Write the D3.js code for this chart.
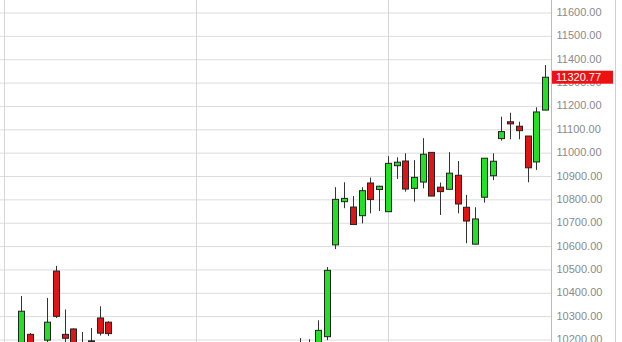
<!DOCTYPE html>
<html>
<head>
<meta charset="utf-8">
<script src="https://cdn.jsdelivr.net/npm/d3@7"></script>
<style>
  body { margin: 0; background: #fff; }
  svg { display: block; font-family: "Liberation Sans", Arial, sans-serif; }
</style>
</head>
<body>
<svg id="chart" width="622" height="342"></svg>
<script>
/** Candle data, one entry per trading day (index 0 = first visible day) */
var opens  = [10150, 10220, 10140, 10195, 10491, 10220, 10243, 10160, 10192, 10290,
              10272, 10170, 10110, 10130, 10080, 10100, 10150, 10100, 10040, 10070,
              10120, 10080, 10000, 10040, 10090, 10060, 10110, 10140, 10100, 10130,
              10150, 10120, 10140, 10170, 10180, 10210, 10603, 10788, 10765, 10728,
              10868, 10840, 10745, 10942, 10962, 10845, 10872, 10999, 10850, 10841,
              10901, 10764, 10606, 10807, 10899, 11058, 11130, 11111, 11069, 10958,
              11180];
var highs  = [10384, 10225, 10175, 10376, 10513, 10326, 10245, 10230, 10247, 10340,
              10276, 10180, 10150, 10160, 10120, 10170, 10175, 10130, 10090, 10140,
              10160, 10110, 10060, 10100, 10150, 10120, 10170, 10175, 10150, 10170,
              10180, 10160, 10204, 10199, 10280, 10508, 10850, 10871, 10812, 10850,
              10891, 10856, 10983, 10978, 10995, 10966, 11060, 10999, 10870, 11000,
              10962, 10817, 10764, 10974, 10995, 11152, 11169, 11130, 11069, 11192,
              11373];
var lows   = [10130, 10110, 10120, 10180, 10290, 10150, 10140, 10100, 10150, 10215,
              10213, 10090, 10060, 10070, 10020, 10080, 10090, 10010, 9990, 10050,
              10060, 9980, 9950, 10010, 10050, 10020, 10080, 10090, 10060, 10100,
              10110, 10080, 10110, 10130, 10170, 10195, 10585, 10760, 10690, 10695,
              10738, 10748, 10745, 10885, 10831, 10788, 10845, 10812, 10731, 10841,
              10738, 10610, 10606, 10784, 10880, 11049, 11055, 11055, 10871, 10924,
              11180];
var closes = [10319, 10140, 10160, 10272, 10297, 10203, 10160, 10120, 10190, 10225,
              10223, 10110, 10130, 10080, 10100, 10150, 10100, 10040, 10070, 10120,
              10080, 10000, 10040, 10090, 10060, 10110, 10140, 10100, 10130, 10150,
              10120, 10140, 10170, 10180, 10237, 10494, 10798, 10802, 10690, 10835,
              10797, 10854, 10952, 10957, 10842, 10892, 10991, 10812, 10831, 10910,
              10778, 10705, 10714, 10974, 10961, 11088, 11121, 11092, 10933, 11172,
              11320.77];

/** Price axis tick labels */
var yTicks = [10200, 10300, 10400, 10500, 10600, 10700, 10800, 10900,
              11000, 11100, 11200, 11300, 11400, 11500, 11600];

/** Day indices where a new month starts (vertical grid lines) */
var monthStarts = [-2, 20, 42];

var width = 622,
    height = 342,
    plotRight = 551;

var svg = d3.select('#chart');

var candles = closes.map(function (c, i) {
    return {i: i, open: opens[i], high: highs[i], low: lows[i], close: c};
});

var x = d3.scaleLinear()
    .domain([0, candles.length - 1])
    .range([21, 545]);

var y = d3.scaleLinear()
    .domain([10200, 11600])
    .range([339, 12]);

svg.append('clipPath').attr('id', 'plotClip')
    .append('rect')
    .attr('width', plotRight)
    .attr('height', height);

// horizontal grid
var hGrid = svg.append('g')
    .attr('class', 'grid')
    .call(d3.axisRight(y).tickValues(yTicks).tickSize(plotRight).tickFormat(''));
hGrid.select('.domain').remove();
hGrid.selectAll('line')
    .attr('stroke', '#dcdcdc')
    .attr('transform', 'translate(0,0.5)');

// vertical grid
svg.append('g').selectAll('line')
    .data(monthStarts)
    .enter()
    .append('line')
    .attr('x1', function (d) { return Math.round(x(d)) + 0.5; })
    .attr('x2', function (d) { return Math.round(x(d)) + 0.5; })
    .attr('y1', 0)
    .attr('y2', height)
    .attr('stroke', '#d6d6d6');

// candles
var plot = svg.append('g').attr('clip-path', 'url(#plotClip)');

var candle = plot.selectAll('g.candle')
    .data(candles)
    .enter()
    .append('g')
    .attr('class', 'candle')
    .attr('transform', function (d) {
        return 'translate(' + (Math.round(x(d.i)) + 0.5) + ',0)';
    });

candle.append('line')
    .attr('y1', function (d) { return y(d.high); })
    .attr('y2', function (d) { return y(d.low); })
    .attr('stroke', '#333');

candle.append('rect')
    .attr('x', -3)
    .attr('width', 6)
    .attr('y', function (d) { return y(Math.max(d.open, d.close)); })
    .attr('height', function (d) {
        return Math.max(1, Math.abs(y(d.open) - y(d.close)));
    })
    .attr('fill', function (d) {
        if (Math.abs(d.close - d.open) < 5) return '#222';
        return d.close > d.open ? '#22e022' : '#e01414';
    })
    .attr('stroke', '#222')
    .attr('stroke-width', 1);

// price axis
var yAxis = svg.append('g')
    .attr('transform', 'translate(' + (plotRight + 0.5) + ',0)')
    .call(d3.axisRight(y).tickValues(yTicks).tickSize(0).tickPadding(5)
        .tickFormat(d3.format('.2f')));

yAxis.select('.domain')
    .attr('stroke', '#bbb')
    .attr('d', 'M0,0V' + height);

yAxis.selectAll('text')
    .attr('fill', '#8a8a8a')
    .style('font-size', '11px');

// right border
svg.append('line')
    .attr('x1', 615.5).attr('x2', 615.5)
    .attr('y1', 0).attr('y2', height)
    .attr('stroke', '#d0d0d0');

// last price tag
var last = candles[candles.length - 1];
var tag = svg.append('g')
    .attr('transform', 'translate(' + (plotRight + 1) + ',' + y(last.close) + ')');

tag.append('rect')
    .attr('x', 0)
    .attr('y', -6.5)
    .attr('width', 61)
    .attr('height', 13)
    .attr('fill', '#ee1111');

tag.append('text')
    .attr('x', 4)
    .attr('dy', '0.35em')
    .attr('fill', '#fff')
    .style('font-size', '11px')
    .text(d3.format('.2f')(last.close));
</script>
</body>
</html>
